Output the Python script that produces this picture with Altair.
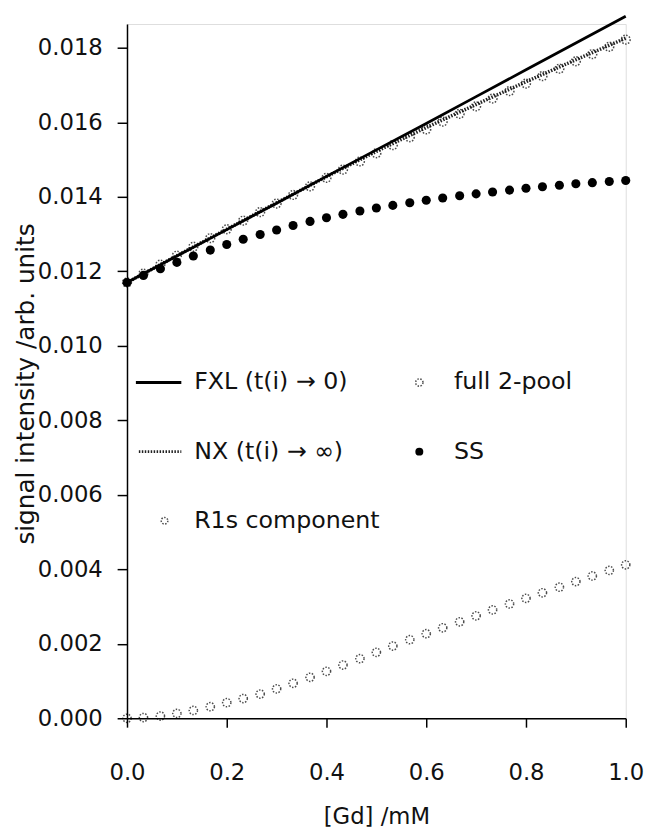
import altair as alt
import pandas as pd

# ---- data ----
gd = [0.0, 0.033, 0.067, 0.1, 0.133, 0.167, 0.2, 0.233, 0.267, 0.3, 0.333,
      0.367, 0.4, 0.433, 0.467, 0.5, 0.533, 0.567, 0.6, 0.633, 0.667,
      0.7, 0.733, 0.767, 0.8, 0.833, 0.867, 0.9, 0.933, 0.967, 1.0]
gd_line = [0.0, 0.1, 0.2, 0.3, 0.4, 0.5, 0.6, 0.7, 0.8, 0.9, 1.0]

fxl = [0.01170, 0.01241, 0.01312, 0.01383, 0.01455, 0.01526, 0.01597,
       0.01669, 0.01741, 0.01813, 0.01885]
nx = [0.01170, 0.01242, 0.01313, 0.01384, 0.01454, 0.01522, 0.01586,
      0.01648, 0.01709, 0.01768, 0.01826]
full2 = [0.01170, 0.01194, 0.01218, 0.01242, 0.01266, 0.01289, 0.01313,
         0.01336, 0.01359, 0.01382, 0.01405, 0.01428, 0.01451, 0.01473,
         0.01495, 0.01517, 0.01539, 0.01560, 0.01581, 0.01602, 0.01623,
         0.01643, 0.01664, 0.01684, 0.01704, 0.01724, 0.01744, 0.01764,
         0.01783, 0.01803, 0.01822]
ss = [0.01170, 0.01189, 0.01207, 0.01224, 0.01241, 0.01257, 0.01272,
      0.01286, 0.01299, 0.01311, 0.01323, 0.01334, 0.01344, 0.01353,
      0.01362, 0.01370, 0.01377, 0.01384, 0.01391, 0.01397, 0.01403,
      0.01408, 0.01413, 0.01418, 0.01423, 0.01427, 0.01431, 0.01435,
      0.01438, 0.01441, 0.01444]
r1s = [0.00000, 0.00002, 0.00006, 0.00013, 0.00021, 0.00031, 0.00042,
       0.00053, 0.00065, 0.00079, 0.00094, 0.00110, 0.00126, 0.00143,
       0.00160, 0.00177, 0.00194, 0.00211, 0.00227, 0.00243, 0.00259,
       0.00275, 0.00291, 0.00307, 0.00322, 0.00337, 0.00352, 0.00367,
       0.00382, 0.00397, 0.00412]

x_ticks = [0.0, 0.2, 0.4, 0.6, 0.8, 1.0]
y_ticks = [0.0, 0.002, 0.004, 0.006, 0.008, 0.010, 0.012, 0.014, 0.016, 0.018]

legend_labels = ["FXL (t(i) \u2192 0)", "NX (t(i) \u2192 \u221e)", "full 2-pool", "SS", "R1s component"]

FONT = "DejaVu Sans"
W, H = 505, 703

df_lines = pd.DataFrame({"gd": gd_line, "fxl": fxl, "nx": nx})
df_pts = pd.DataFrame({"gd": gd, "full2": full2, "ss": ss, "r1s": r1s})

xscale = alt.Scale(domain=[0, 1], nice=False, zero=False)
yscale = alt.Scale(domain=[0, 0.01864], nice=False, zero=False)

xaxis = alt.Axis(values=x_ticks, format=".1f", title="[Gd] /mM", grid=False,
                 tickSize=9, labelPadding=35, labelFontSize=23, labelFont=FONT,
                 labelColor="#111", titleFont=FONT, titleFontSize=23,
                 titleFontWeight="normal", titleColor="#111",
                 titleX=W / 2, titleY=100, titleBaseline="middle",
                 domainColor="black", tickColor="black", domainWidth=1.5,
                 tickWidth=1.5, labelFlush=False)
yaxis = alt.Axis(values=y_ticks, format=".3f", title="signal intensity /arb. units",
                 grid=False, tickSize=10, labelPadding=15, labelFontSize=23,
                 labelFont=FONT, labelColor="#111", titleFont=FONT,
                 titleFontSize=25, titleFontWeight="normal", titleColor="#111",
                 titleX=-103, titleY=364, titleAngle=270,
                 titleBaseline="middle", titleAlign="center",
                 domainColor="black", tickColor="black", domainWidth=1.5,
                 tickWidth=1.5)

X = alt.X("gd:Q", scale=xscale, axis=xaxis)

fxl_line = alt.Chart(df_lines).mark_line(color="black", strokeWidth=2.8).encode(
    x=X, y=alt.Y("fxl:Q", scale=yscale, axis=yaxis))
nx_line = alt.Chart(df_lines).mark_line(color="#222", strokeWidth=3.5, strokeDash=[1.5, 1.5]).encode(
    x="gd:Q", y="nx:Q")
full2_pts = alt.Chart(df_pts).mark_point(shape="circle", filled=False, size=80,
                                         color="black", strokeWidth=1.5,
                                         strokeDash=[1.5, 1.5]).encode(x="gd:Q", y="full2:Q")
ss_pts = alt.Chart(df_pts).mark_point(shape="circle", filled=True, size=85,
                                      color="black", opacity=1).encode(x="gd:Q", y="ss:Q")
r1s_pts = alt.Chart(df_pts).mark_point(shape="circle", filled=False, size=70,
                                       color="black", strokeWidth=1.5,
                                       strokeDash=[1.5, 1.5]).encode(x="gd:Q", y="r1s:Q")

one = alt.Data(values=[{"k": 1}])
txt = dict(font=FONT, fontSize=24, align="left", baseline="middle", color="#111")

leg = [
    alt.Chart(one).mark_rule(color="black", strokeWidth=2.8).encode(
        x=alt.value(9), x2=alt.value(55), y=alt.value(363)),
    alt.Chart(one).mark_text(**txt).encode(
        x=alt.value(68), y=alt.value(363), text=alt.value(legend_labels[0])),
    alt.Chart(one).mark_rule(color="#222", strokeWidth=3, strokeDash=[1.5, 1.5]).encode(
        x=alt.value(12), x2=alt.value(55), y=alt.value(433)),
    alt.Chart(one).mark_text(**txt).encode(
        x=alt.value(68), y=alt.value(433), text=alt.value(legend_labels[1])),
    alt.Chart(one).mark_point(shape="circle", filled=False, size=55, color="black",
                              strokeWidth=1.5, strokeDash=[1.5, 1.5]).encode(
        x=alt.value(296), y=alt.value(363)),
    alt.Chart(one).mark_text(**txt).encode(
        x=alt.value(331), y=alt.value(363), text=alt.value(legend_labels[2])),
    alt.Chart(one).mark_point(shape="circle", filled=True, size=65, color="black",
                              opacity=1).encode(x=alt.value(296), y=alt.value(433)),
    alt.Chart(one).mark_text(**txt).encode(
        x=alt.value(331), y=alt.value(433), text=alt.value(legend_labels[3])),
    alt.Chart(one).mark_point(shape="circle", filled=False, size=45, color="black",
                              strokeWidth=1.5, strokeDash=[1.5, 1.5]).encode(
        x=alt.value(38), y=alt.value(503)),
    alt.Chart(one).mark_text(**txt).encode(
        x=alt.value(68), y=alt.value(503), text=alt.value(legend_labels[4])),
]

chart = alt.layer(nx_line, fxl_line, full2_pts, ss_pts, r1s_pts, *leg).properties(
    width=W, height=H,
    autosize=alt.AutoSizeParams(type="none"),
    padding={"left": 120.5, "top": 11, "right": 18.5, "bottom": 114},
).configure_view(stroke=None, clip=False).configure(background="white")

chart.save("out.html", embed_options={"renderer": "svg", "actions": False})
